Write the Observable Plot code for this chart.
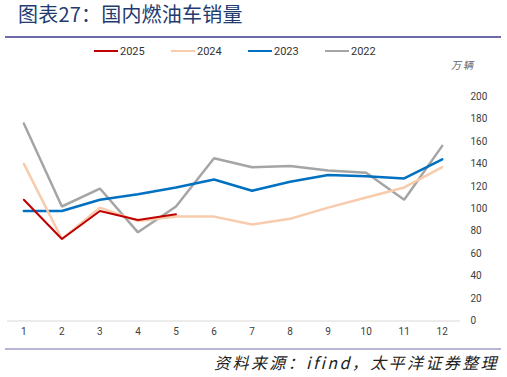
<!DOCTYPE html>
<html><head><meta charset="utf-8">
<script src="https://cdn.jsdelivr.net/npm/d3@7"></script>
<script src="https://cdn.jsdelivr.net/npm/@observablehq/plot@0.6"></script>
<style>
body{margin:0;background:#fff;width:507px;height:377px;position:relative;overflow:hidden;font-family:"Noto Sans CJK SC",sans-serif}
#title{position:absolute;left:18px;top:2px;font-size:20px;line-height:24px;color:#1f3b6f;white-space:nowrap;letter-spacing:0.2px}
#tline{position:absolute;left:5px;top:36px;width:496px;height:2px;background:#6b6ba8}
#legend{position:absolute;left:94px;top:43px;height:16px;display:flex;font-family:Roboto,"Noto Sans",sans-serif;font-size:11px;color:#333}
.item{width:77px;display:flex;align-items:center}
.sw{width:24px;height:2.5px;margin-right:2px}
#unit{position:absolute;left:451px;top:57px;font-size:10px;color:#595959;font-style:italic;letter-spacing:2px}
#chart{position:absolute;left:0;top:60px}
#bline{position:absolute;left:5px;top:348px;width:496px;height:2px;background:#b5b5d6}
#source{position:absolute;right:8px;top:351px;font-size:16px;line-height:22px;font-style:italic;color:#222;white-space:nowrap;letter-spacing:2.4px}
</style></head>
<body>
<div id="title">图表27：国内燃油车销量</div>
<div id="tline"></div>
<div id="legend"></div>
<div id="unit">万辆</div>
<div id="chart"></div>
<div id="bline"></div>
<div id="source">资料来源：ifind，太平洋证券整理</div>
<script>
const months = [1,2,3,4,5,6,7,8,9,10,11,12];
const yTicks = [0,20,40,60,80,100,120,140,160,180,200];
const seriesNames = ["2025","2024","2023","2022"];
const seriesColors = ["#c00000","#f8cbad","#0070c0","#a5a5a5"];
const v2025 = [108,73,98,90,95];
const v2024 = [140,73,101,89,93,93,86,91,101,110,119,137];
const v2023 = [98,98,108,113,119,126,116,124,130,129,127,144];
const v2022 = [176,102,118,79,102,145,137,138,134,132,108,156];

const valuesBySeries = {"2025":v2025,"2024":v2024,"2023":v2023,"2022":v2022};
const widthBySeries = {"2025":2,"2024":2.5,"2023":2.5,"2022":2.5};
const rows = s => valuesBySeries[s].map((v,i)=>({month:months[i], value:v, series:s}));

const legend = document.getElementById("legend");
seriesNames.forEach((s,i)=>{
  const it = document.createElement("div"); it.className="item";
  it.innerHTML = `<span class="sw" style="background:${seriesColors[i]}"></span><span>${s}</span>`;
  legend.appendChild(it);
});

const drawOrder = ["2022","2023","2024","2025"];
const plot = Plot.plot({
  width: 507, height: 280,
  marginLeft: 7, marginRight: 47, marginTop: 36, marginBottom: 19.5,
  style: {fontFamily: 'Roboto, "Noto Sans", sans-serif', fontSize: "10px", color: "#404040", background: "transparent"},
  x: {type: "linear", domain: [0.57, 12.48], ticks: months, tickFormat: d => String(d), tickSize: 0, tickPadding: 7, label: null},
  y: {domain: [0, 200], ticks: yTicks, axis: "right", tickSize: 0, tickPadding: 10, label: null},
  color: {domain: seriesNames, range: seriesColors},
  marks: [
    Plot.ruleY([0], {stroke: "#d9d9d9", strokeWidth: 1}),
    ...drawOrder.map(s => Plot.line(rows(s), {x: "month", y: "value", stroke: "series", strokeWidth: widthBySeries[s], strokeLinejoin: "miter"}))
  ]
});
document.getElementById("chart").appendChild(plot);
</script>
</body></html>
